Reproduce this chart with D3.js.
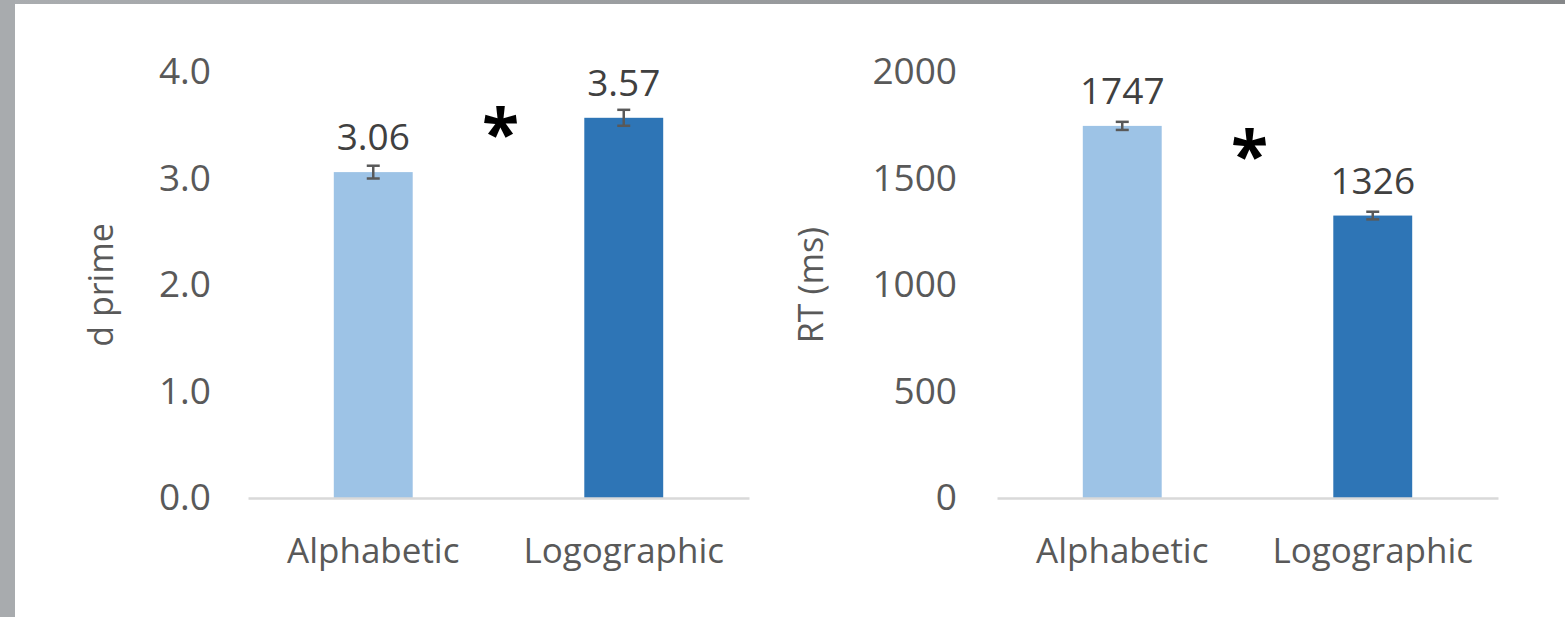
<!DOCTYPE html>
<html>
<head>
<meta charset="utf-8">
<script src="https://cdn.jsdelivr.net/npm/d3@7"></script>
<style>
  html, body { margin: 0; padding: 0; background: #fff; }
  svg { display: block; }
  text { font-family: "Open Sans", "Lato", sans-serif; }
</style>
</head>
<body>
<svg id="chart" width="1565" height="617"></svg>
<script>
// Categories shared by both panels
const categories = ["Alphabetic", "Logographic"];

// Panel 1: discrimination accuracy (d prime)
const dprimeValues = [3.06, 3.57];
const dprimeErrors = [0.06, 0.075];
const dprimeTicks = [0, 1, 2, 3, 4];

// Panel 2: reaction time in milliseconds
const rtValues = [1747, 1326];
const rtErrors = [19, 18];
const rtTicks = [0, 500, 1000, 1500, 2000];

// Significance marker heights (in each panel's data units)
const sigMarkY = [3.5, 1650];

const barColors = ["#9dc3e6", "#2e75b6"];
const textColor = "#595959";
const labelColor = "#404040";

const svg = d3.select("#chart");

// Frame strips along the top and left edges
const defs = svg.append("defs");
const grad = defs.append("linearGradient").attr("id", "topStrip")
  .attr("x1", "0%").attr("x2", "100%").attr("y1", "0%").attr("y2", "0%");
grad.append("stop").attr("offset", "0%").attr("stop-color", "#aaadb0");
grad.append("stop").attr("offset", "100%").attr("stop-color", "#858789");
svg.append("rect").attr("x", 0).attr("y", 0).attr("width", 1565).attr("height", 4)
  .attr("fill", "url(#topStrip)");
svg.append("rect").attr("x", 0).attr("y", 0).attr("width", 15).attr("height", 617)
  .attr("fill", "#a8abae");

function drawPanel(opts) {
  const { x0, x1, yTop, yBottom, values, errors, ticks, max, fmt,
          title, titleX, sigY, tickPad } = opts;
  const g = svg.append("g");

  const x = d3.scaleBand().domain(categories).range([x0, x1]).padding(0);
  const y = d3.scaleLinear().domain([0, max]).range([yBottom, yTop]);
  const barW = x.bandwidth() * 0.315;

  // Bars
  g.selectAll("rect.bar").data(values).join("rect")
    .attr("class", "bar")
    .attr("x", (d, i) => x(categories[i]) + x.bandwidth() / 2 - barW / 2)
    .attr("y", d => y(d))
    .attr("width", barW)
    .attr("height", d => y(0) - y(d))
    .attr("fill", (d, i) => barColors[i]);

  // Error bars
  const eb = g.selectAll("g.err").data(values).join("g").attr("class", "err")
    .attr("stroke", "#595959").attr("stroke-width", 2.5);
  const cx = i => x(categories[i]) + x.bandwidth() / 2;
  eb.append("line")
    .attr("x1", (d, i) => cx(i)).attr("x2", (d, i) => cx(i))
    .attr("y1", (d, i) => y(d + errors[i])).attr("y2", (d, i) => y(d - errors[i]));
  eb.append("line")
    .attr("x1", (d, i) => cx(i) - 6.5).attr("x2", (d, i) => cx(i) + 6.5)
    .attr("y1", (d, i) => y(d + errors[i])).attr("y2", (d, i) => y(d + errors[i]));
  eb.append("line")
    .attr("x1", (d, i) => cx(i) - 6.5).attr("x2", (d, i) => cx(i) + 6.5)
    .attr("y1", (d, i) => y(d - errors[i])).attr("y2", (d, i) => y(d - errors[i]));

  // Value labels
  g.selectAll("text.val").data(values).join("text")
    .attr("class", "val")
    .attr("x", (d, i) => cx(i))
    .attr("y", d => y(d) - 22)
    .attr("text-anchor", "middle")
    .attr("font-size", 37)
    .attr("fill", labelColor)
    .text(d => fmt(d));

  // Y axis (labels only)
  const yAxis = g.append("g").attr("transform", `translate(${x0},0)`)
    .call(d3.axisLeft(y).tickValues(ticks).tickSize(0).tickPadding(tickPad).tickFormat(opts.tickFmt));
  yAxis.select(".domain").remove();
  yAxis.selectAll("text").attr("font-size", 37).attr("fill", textColor)
    .attr("font-family", "Open Sans, Lato, sans-serif");

  // X axis with baseline
  const xAxis = g.append("g").attr("transform", `translate(0,${yBottom})`)
    .call(d3.axisBottom(x).tickSize(0).tickSizeOuter(0));
  xAxis.select(".domain").attr("stroke", "#d9d9d9").attr("stroke-width", 2.5);
  xAxis.selectAll("text").attr("font-size", 35).attr("fill", textColor)
    .attr("font-family", "Open Sans, Lato, sans-serif")
    .attr("dy", 0).attr("y", 65);

  // Axis title
  const ty = (yTop + yBottom) / 2;
  g.append("text")
    .attr("transform", `translate(${titleX},${ty}) rotate(-90)`)
    .attr("text-anchor", "middle")
    .attr("font-size", 34)
    .attr("fill", textColor)
    .text(title);

  // Significance marker between the bars
  g.append("text")
    .attr("x", (cx(0) + cx(1)) / 2 + 2)
    .attr("y", y(sigY) + 33)
    .attr("text-anchor", "middle")
    .attr("font-size", 68)
    .attr("font-weight", "bold")
    .attr("font-family", "DejaVu Sans, sans-serif")
    .attr("fill", "#000")
    .text("*");
}

drawPanel({
  x0: 248, x1: 749, yTop: 72, yBottom: 498,
  values: dprimeValues, errors: dprimeErrors, ticks: dprimeTicks, max: 4,
  fmt: d3.format(".2f"), tickFmt: d3.format(".1f"),
  title: "d prime", titleX: 113, sigY: sigMarkY[0], tickPad: 37
});

drawPanel({
  x0: 997, x1: 1498, yTop: 72, yBottom: 498,
  values: rtValues, errors: rtErrors, ticks: rtTicks, max: 2000,
  fmt: d3.format("d"), tickFmt: d3.format("d"),
  title: "RT (ms)", titleX: 823, sigY: sigMarkY[1], tickPad: 40
});
</script>
</body>
</html>
